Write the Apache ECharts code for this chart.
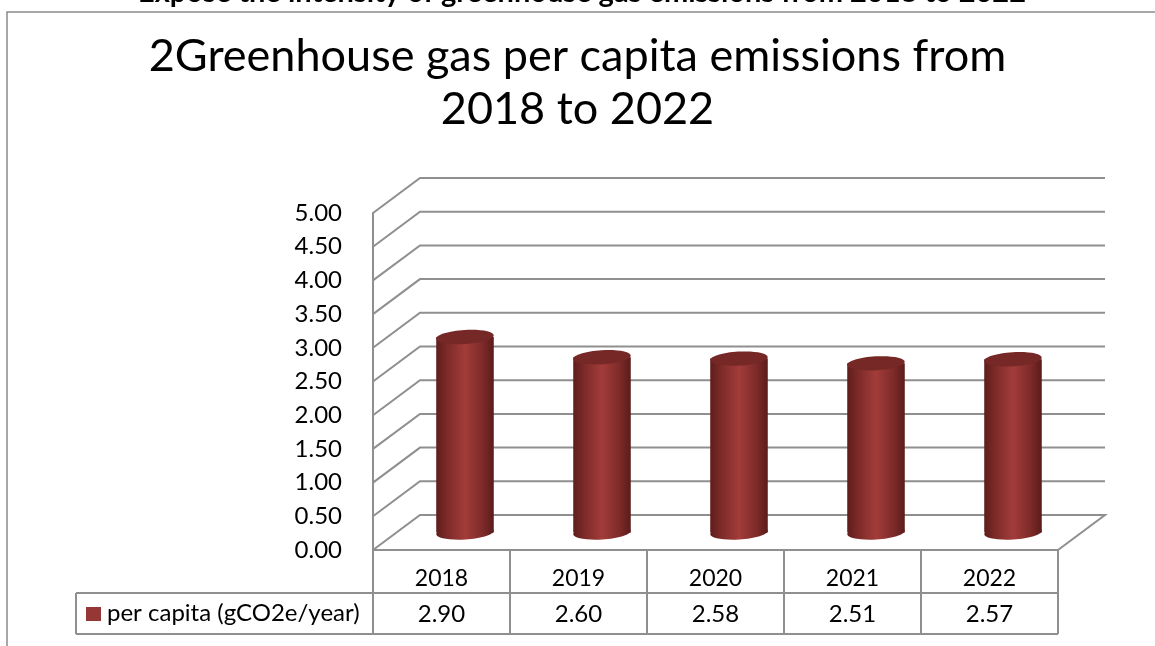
<!DOCTYPE html>
<html>
<head>
<meta charset="utf-8">
<script src="https://cdn.jsdelivr.net/npm/echarts@6/dist/echarts.min.js"></script>
<style>
html,body{margin:0;padding:0;background:#fff;}
#chart{width:1155px;height:646px;}
</style>
</head>
<body>
<div id="chart"></div>
<script>
const supTitle = 'Expose the intensity of greenhouse gas emissions from 2018 to 2022';
const mainTitle = '2Greenhouse gas per capita emissions from\n2018 to 2022';
const years = ['2018', '2019', '2020', '2021', '2022'];
const perCapita = [2.90, 2.60, 2.58, 2.51, 2.57];
const seriesName = 'per capita (gCO2e/year)';
const yTickLabels = ['0.00', '0.50', '1.00', '1.50', '2.00', '2.50', '3.00', '3.50', '4.00', '4.50', '5.00'];
const yTickValues = yTickLabels.map(Number);

const FONT = 'Lato';
const GRID_COLOR = '#8f8f8f';
const DX = 47, DY = 35;       // 3D depth offset
const RED = '#953735';

const chart = echarts.init(document.getElementById('chart'));

function wallItem(params, api) {
  const cs = params.coordSys;
  const v = api.value(1);
  const y = api.coord([0, v])[1];
  const left = cs.x, right = cs.x + cs.width;
  const pts = [[left, y], [left + DX, y - DY], [right + DX, y - DY]];
  if (v === 0) pts.push([right, y]);
  return {
    type: 'polyline',
    shape: { points: pts },
    style: { stroke: GRID_COLOR, lineWidth: 2, fill: null }
  };
}

function cylinderItem(params, api) {
  const i = api.value(0), v = api.value(1);
  const top = api.coord([i, v]);
  const base = api.coord([i, 0]);
  const bandW = api.size([1, 0])[0];
  const cx = top[0] + DX / 2;
  const rx = bandW * 0.21;
  const ry = 7;
  const yTop = top[1] - DY / 2;
  const yBase = base[1] - DY / 2;
  const grad = new echarts.graphic.LinearGradient(0, 0, 1, 0, [
    { offset: 0, color: '#5e1d1c' },
    { offset: 0.2, color: '#7e2b29' },
    { offset: 0.5, color: '#a23c3a' },
    { offset: 0.8, color: '#7e2b29' },
    { offset: 1, color: '#5a1c1b' }
  ]);
  return {
    type: 'group',
    children: [
      { type: 'ellipse', shape: { cx: cx, cy: yBase, rx: rx, ry: ry }, rotation: 0.06, originX: cx, originY: yBase, style: { fill: grad } },
      { type: 'rect', shape: { x: cx - rx, y: yTop, width: rx * 2, height: yBase - yTop }, style: { fill: grad } },
      { type: 'ellipse', shape: { cx: cx, cy: yTop, rx: rx, ry: ry }, rotation: 0.06, originX: cx, originY: yTop, style: { fill: '#762826' } }
    ]
  };
}

function valueCellItem(params, api) {
  const cs = params.coordSys;
  const i = api.value(0), v = api.value(1);
  const x = api.coord([i, 0])[0];
  return {
    type: 'text',
    style: {
      x: x, y: cs.y + cs.height + 64,
      text: v.toFixed(2),
      fill: '#000', font: '24px ' + FONT,
      align: 'center', verticalAlign: 'middle'
    }
  };
}

function tableFrameItem(params, api) {
  const cs = params.coordSys;
  const right = cs.x + cs.width, bottom = cs.y + cs.height;
  const rowTop = bottom + 43, rowBot = bottom + 84;
  const legLeft = 76;
  const ls = { stroke: GRID_COLOR, lineWidth: 2 };
  return {
    type: 'group',
    children: [
      { type: 'line', shape: { x1: legLeft, y1: rowTop, x2: right, y2: rowTop }, style: ls },
      { type: 'line', shape: { x1: legLeft, y1: rowBot, x2: right, y2: rowBot }, style: ls },
      { type: 'line', shape: { x1: legLeft, y1: rowTop, x2: legLeft, y2: rowBot }, style: ls },
      { type: 'rect', shape: { x: legLeft + 10, y: rowTop + 14, width: 15, height: 14 }, style: { fill: RED } },
      { type: 'text', style: { x: legLeft + 31, y: (rowTop + rowBot) / 2, text: seriesName, fill: '#000', font: '24px ' + FONT, align: 'left', verticalAlign: 'middle' } }
    ]
  };
}

chart.setOption({
  animation: false,
  backgroundColor: '#fff',
  graphic: [
    { type: 'rect', shape: { x: 7, y: 12, width: 1200, height: 700 }, style: { fill: null, stroke: '#8a8a8a', lineWidth: 1.5 }, z: 0 },
    { type: 'text', style: { x: 582, y: -7, text: supTitle, font: 'bold 29px ' + FONT, fill: '#000', align: 'center', verticalAlign: 'middle' } }
  ],
  title: {
    text: mainTitle,
    left: 'center',
    top: 25,
    textStyle: { fontFamily: FONT, fontSize: 45, fontWeight: 'normal', color: '#000', lineHeight: 53 }
  },
  grid: { left: 373, top: 213, width: 685, height: 337, containLabel: false },
  xAxis: {
    type: 'category',
    data: years,
    axisLine: { lineStyle: { color: GRID_COLOR, width: 2 } },
    axisTick: { show: true, length: 84, lineStyle: { color: GRID_COLOR, width: 2 } },
    axisLabel: { color: '#000', fontFamily: FONT, fontSize: 23, margin: 17 },
    splitLine: { show: false }
  },
  yAxis: {
    type: 'value',
    min: 0, max: 5, interval: 0.5,
    axisLine: { show: true, lineStyle: { color: GRID_COLOR, width: 2 } },
    axisTick: { show: false },
    splitLine: { show: false },
    axisLabel: { color: '#000', fontFamily: FONT, fontSize: 24, margin: 31, formatter: (v) => yTickLabels[yTickValues.indexOf(v)] }
  },
  series: [
    { type: 'custom', name: 'walls', renderItem: wallItem, data: yTickValues.map(v => [0, v]), encode: { x: 0, y: 1 }, z: 1, silent: true },
    { type: 'custom', name: 'table', renderItem: tableFrameItem, data: [[0, 0]], encode: { x: 0, y: 1 }, clip: false, z: 2, silent: true },
    { type: 'custom', name: 'values', renderItem: valueCellItem, data: perCapita.map((v, i) => [i, v]), encode: { x: 0, y: 1 }, clip: false, z: 2 },
    { type: 'custom', name: seriesName, renderItem: cylinderItem, data: perCapita.map((v, i) => [i, v]), encode: { x: 0, y: 1 }, clip: false, z: 3 }
  ]
});
</script>
</body>
</html>
